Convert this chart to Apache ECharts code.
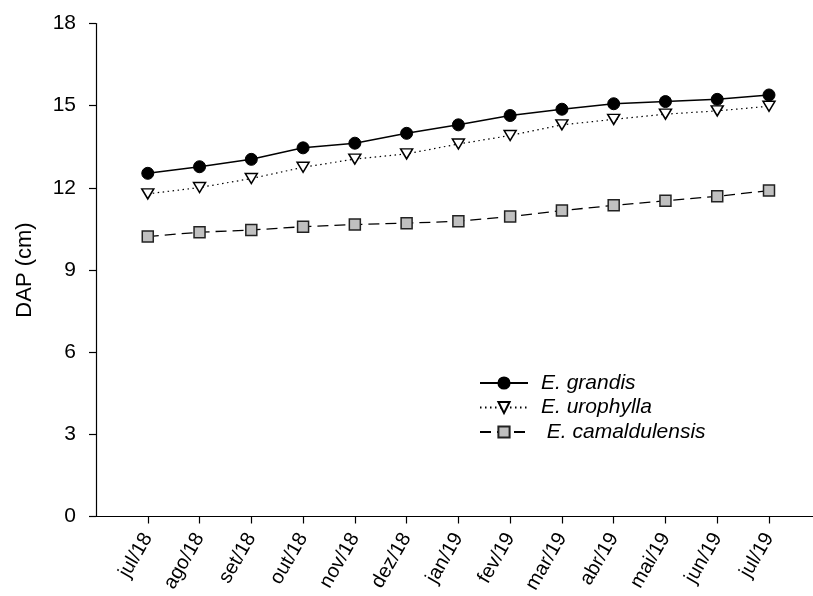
<!DOCTYPE html>
<html>
<head>
<meta charset="utf-8">
<script src="https://cdn.jsdelivr.net/npm/echarts@6/dist/echarts.min.js"></script>
<style>html,body{margin:0;padding:0;background:#fff;}#c{width:813px;height:596px;}</style>
</head>
<body>
<div id="c"></div>
<script>
var categories = ['jul/18','ago/18','set/18','out/18','nov/18','dez/18','jan/19','fev/19','mar/19','abr/19','mai/19','jun/19','jul/19'];
var grandis = [12.53, 12.77, 13.04, 13.46, 13.63, 13.99, 14.30, 14.64, 14.87, 15.07, 15.15, 15.23, 15.39];
var urophylla = [11.78, 12.01, 12.34, 12.75, 13.05, 13.24, 13.60, 13.91, 14.30, 14.50, 14.69, 14.81, 14.98];
var camaldulensis = [10.22, 10.38, 10.46, 10.58, 10.66, 10.71, 10.78, 10.95, 11.17, 11.36, 11.53, 11.69, 11.90];
var yTicks = [0, 3, 6, 9, 12, 15, 18];
var seriesNames = ['E. grandis', 'E. urophylla', ' E. camaldulensis'];

function pairs(arr){ return arr.map(function(v,i){ return [i, v]; }); }
var idx = categories.map(function(c,i){ return i; });
var font = 'Liberation Sans, Arial, sans-serif';

var chart = echarts.init(document.getElementById('c'), null, {renderer:'canvas'});
chart.setOption({
  animation: false,
  backgroundColor: '#fff',
  grid: {left: 96, right: 0, top: 23.5, bottom: 79.3, containLabel: false},
  xAxis: {
    type: 'value', min: -1, max: 12.85, interval: 1,
    splitLine: {show: false},
    axisLine: {show: true, onZero: false, lineStyle: {color: '#000', width: 1.2}},
    axisTick: {show: true, inside: false, length: 7, lineStyle: {color: '#000', width: 1.2}, customValues: idx},
    axisLabel: {
      customValues: idx,
      formatter: function(v){ return categories[Math.round(v)] || ''; },
      rotate: 60, margin: 18, color: '#000', fontSize: 20, fontFamily: font
    }
  },
  yAxis: {
    type: 'value', min: 0, max: 18, interval: 3,
    name: 'DAP (cm)', nameLocation: 'middle', nameGap: 60,
    nameTextStyle: {color: '#000', fontSize: 22, fontFamily: font},
    splitLine: {show: false},
    axisLine: {show: true, onZero: false, lineStyle: {color: '#000', width: 1.2}},
    axisTick: {show: true, inside: false, length: 7, lineStyle: {color: '#000', width: 1.2}},
    axisLabel: {
      customValues: yTicks,
      margin: 20, color: '#000', fontSize: 21, fontFamily: font
    }
  },
  legend: {
    orient: 'vertical', left: 479, top: 372.5, padding: 0,
    itemWidth: 48, itemHeight: 14, itemGap: 3.5,
    textStyle: {color: '#000', fontSize: 21, fontStyle: 'italic', fontFamily: font, padding: [0,0,0,8]},
    data: seriesNames
  },
  series: [
    {
      name: seriesNames[0], type: 'line', data: pairs(grandis),
      symbol: 'circle', symbolSize: 12,
      lineStyle: {color: '#000', width: 1.5, type: 'solid'},
      itemStyle: {color: '#000', borderColor: '#000', borderWidth: 1}
    },
    {
      name: seriesNames[1], type: 'line', data: pairs(urophylla),
      symbol: 'triangle', symbolSize: [12, 10], symbolRotate: 180,
      lineStyle: {color: '#000', width: 1.2, type: [1.5, 3.5]},
      itemStyle: {color: '#fff', borderColor: '#000', borderWidth: 1.5}
    },
    {
      name: seriesNames[2], type: 'line', data: pairs(camaldulensis),
      symbol: 'rect', symbolSize: 11,
      lineStyle: {color: '#000', width: 1.3, type: [11, 6]},
      itemStyle: {color: '#c0c0c0', borderColor: '#222', borderWidth: 1.5}
    }
  ]
});
</script>
</body>
</html>
